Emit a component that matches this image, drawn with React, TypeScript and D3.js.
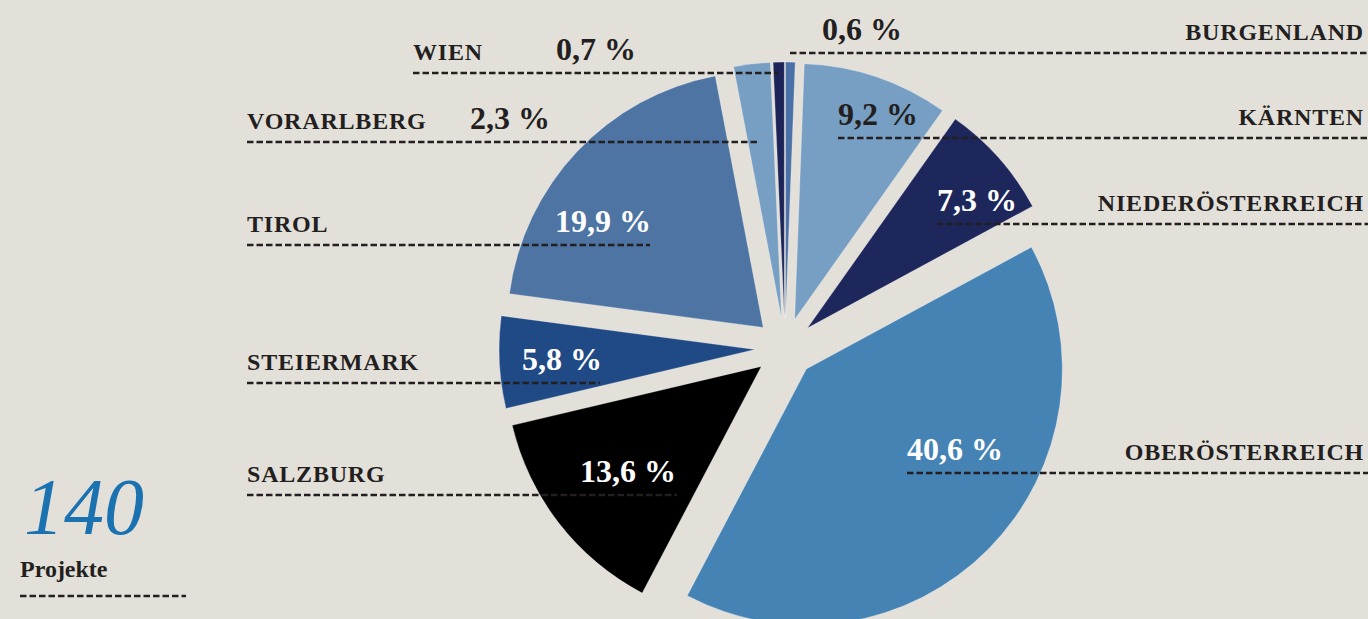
import { useEffect, useRef } from 'react';
import * as d3 from 'd3';

// regions in pie order (clockwise from 12 o'clock)
const regions = ['BURGENLAND', 'KÄRNTEN', 'NIEDERÖSTERREICH', 'OBERÖSTERREICH', 'SALZBURG', 'STEIERMARK', 'TIROL', 'VORARLBERG', 'WIEN'];
const shares = [0.6, 9.2, 7.3, 40.6, 13.6, 5.8, 19.9, 2.3, 0.7];
const sliceColors = ['#4a70a8', '#779fc3', '#1d275c', '#4683b5', '#000000', '#1f4a86', '#4d74a2', '#779fc3', '#1c2459'];
const totalProjects = 140;
const totalLabel = 'Projekte';

// label placement: side, baseline y, x of value text, dashed line start/end
const labelLayout = {
  BURGENLAND: { side: 'right', y: 40, valueX: 822, lineX0: 790, lineX1: 1368, inside: false },
  'KÄRNTEN': { side: 'right', y: 125, valueX: 838, lineX0: 838, lineX1: 1368, inside: false },
  'NIEDERÖSTERREICH': { side: 'right', y: 211, valueX: 937, lineX0: 937, lineX1: 1368, inside: true },
  'OBERÖSTERREICH': { side: 'right', y: 460, valueX: 907, lineX0: 907, lineX1: 1368, inside: true },
  SALZBURG: { side: 'left', y: 482, valueX: 580, lineX0: 247, lineX1: 677, inside: true },
  STEIERMARK: { side: 'left', y: 370, valueX: 522, lineX0: 247, lineX1: 600, inside: true },
  TIROL: { side: 'left', y: 232, valueX: 555, lineX0: 247, lineX1: 650, inside: true },
  VORARLBERG: { side: 'left', y: 129, valueX: 470, lineX0: 247, lineX1: 760, inside: false },
  WIEN: { side: 'left', y: 60, valueX: 556, lineX0: 413, lineX1: 778, inside: false, nameX: 413 },
};

const W = 1368;
const H = 619;
const FONT = '"Liberation Serif", "DejaVu Serif", serif';
const INK = '#231f20';

const App = () => {
  const svgRef = useRef(null);

  useEffect(() => {
    const svg = d3.select(svgRef.current);
    svg.selectAll('*').remove();

    svg.append('rect').attr('width', W).attr('height', H).attr('fill', '#e3e0da');

    const cx = 785;
    const cy = 348;
    const radius = 256;
    const explode = 30;

    const data = regions.map((r, i) => ({ region: r, value: shares[i], color: sliceColors[i] }));
    const pie = d3.pie().sort(null).value(d => d.value);
    const arc = d3.arc().innerRadius(0).outerRadius(radius);

    const g = svg.append('g').attr('transform', `translate(${cx},${cy})`);

    g.selectAll('path')
      .data(pie(data))
      .enter()
      .append('path')
      .attr('d', arc)
      .attr('fill', d => d.data.color)
      .attr('stroke', 'rgba(255,255,255,0.35)')
      .attr('stroke-width', 0.8)
      .attr('transform', d => {
        const mid = (d.startAngle + d.endAngle) / 2;
        return `translate(${Math.sin(mid) * explode},${-Math.cos(mid) * explode})`;
      });

    // labels
    const labels = svg.append('g');
    data.forEach(d => {
      const l = labelLayout[d.region];
      labels.append('line')
        .attr('x1', l.lineX0)
        .attr('x2', l.lineX1)
        .attr('y1', l.y + 13)
        .attr('y2', l.y + 13)
        .attr('stroke', INK)
        .attr('stroke-width', 2.6)
        .attr('stroke-dasharray', '6.5,3');

      labels.append('text')
        .attr('x', l.side === 'right' ? 1364 : (l.nameX || 247))
        .attr('y', l.y)
        .attr('text-anchor', l.side === 'right' ? 'end' : 'start')
        .attr('font-family', FONT)
        .attr('font-weight', 'bold')
        .attr('font-size', 24)
        .attr('letter-spacing', 0.8)
        .attr('fill', INK)
        .text(d.region);

      labels.append('text')
        .attr('x', l.valueX)
        .attr('y', l.y)
        .attr('font-family', FONT)
        .attr('font-weight', 'bold')
        .attr('font-size', 32)
        .attr('fill', l.inside ? '#ffffff' : INK)
        .text(`${d.value.toFixed(1).replace('.', ',')} %`);
    });

    // total
    svg.append('text')
      .attr('x', 24)
      .attr('y', 534)
      .attr('font-family', FONT)
      .attr('font-style', 'italic')
      .attr('font-size', 80)
      .attr('fill', '#1a72b0')
      .text(totalProjects);

    svg.append('text')
      .attr('x', 20)
      .attr('y', 577)
      .attr('font-family', FONT)
      .attr('font-weight', 'bold')
      .attr('font-size', 24)
      .attr('fill', INK)
      .text(totalLabel);

    svg.append('line')
      .attr('x1', 20)
      .attr('x2', 186)
      .attr('y1', 596)
      .attr('y2', 596)
      .attr('stroke', INK)
      .attr('stroke-width', 2.6)
      .attr('stroke-dasharray', '6.5,3');
  }, []);

  return (
    <div style={{ position: 'absolute', left: 0, top: 0 }}>
      <svg ref={svgRef} width={W} height={H} style={{ display: 'block' }}></svg>
    </div>
  );
};

export default App;
